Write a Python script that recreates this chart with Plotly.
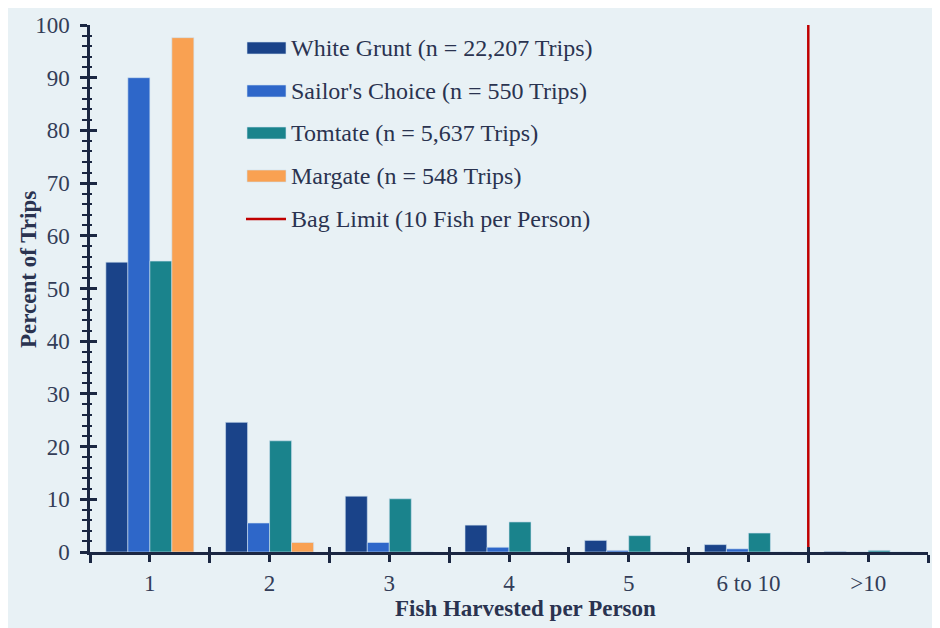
import plotly.graph_objects as go

categories = ["1", "2", "3", "4", "5", "6 to 10", ">10"]
white_grunt = [55.0, 24.6, 10.6, 5.1, 2.2, 1.4, 0.1]
sailors_choice = [90.0, 5.5, 1.8, 0.9, 0.3, 0.6, 0.0]
tomtate = [55.2, 21.1, 10.1, 5.7, 3.1, 3.6, 0.3]
margate = [97.6, 1.8, 0.0, 0.0, 0.0, 0.0, 0.0]
series_names = [
    "White Grunt (n = 22,207 Trips)",
    "Sailor's Choice (n = 550 Trips)",
    "Tomtate (n = 5,637 Trips)",
    "Margate (n = 548 Trips)",
]
bag_limit_name = "Bag Limit (10 Fish per Person)"
bag_limit_x = 5.5  # boundary between "6 to 10" and ">10"
y_ticks = [0, 10, 20, 30, 40, 50, 60, 70, 80, 90, 100]

colors = ["#1A4389", "#2E67C9", "#1A838C", "#F9A152"]
red = "#C00000"
navy = "#1B2742"
text_col = "#2A3350"
tick_col = "#333D58"
bg = "#E8F1F5"
font_fam = "Liberation Serif"

OFF = 8  # page body margin
W, H = 940, 628
# plot area in page pixels: x 90..928, y 25..552
ml = 90 - OFF
mt = 25 - OFF
mr = W - (928 - OFF)
mb = H - (552 - OFF)
pw, ph = W - ml - mr, H - mt - mb

def px_x(p):
    return (p - OFF - ml) / pw

def px_y(p):
    return (H - mb - (p - OFF)) / ph

xs = list(range(len(categories)))
fig = go.Figure()
for name, vals, c in zip(series_names, [white_grunt, sailors_choice, tomtate, margate], colors):
    fig.add_trace(go.Bar(x=xs, y=vals, name=name, marker=dict(color=c, line=dict(color="#CFE0F0", width=0.6)),
                         showlegend=False))
fig.add_trace(go.Scatter(x=[bag_limit_x, bag_limit_x], y=[y_ticks[0], y_ticks[-1]], mode="lines",
                         line=dict(color=red, width=2.5), name=bag_limit_name, showlegend=False))
fig.add_trace(go.Scatter(x=[None], y=[None], xaxis="x2", yaxis="y2", showlegend=False, hoverinfo="skip"))

xr = [-0.5, len(categories) - 0.5]
yr = [y_ticks[0], y_ticks[-1]]
boundaries = [i - 0.5 for i in range(len(categories) + 1)]

fig.update_layout(
    width=W, height=H,
    margin=dict(l=ml, r=mr, t=mt, b=mb, autoexpand=False),
    paper_bgcolor=bg, plot_bgcolor=bg,
    barmode="group", bargap=0.265, bargroupgap=0,
    font=dict(family=font_fam, color=text_col, size=23),
    xaxis=dict(range=xr, tickmode="array", tickvals=xs, ticktext=categories,
               ticks="outside", ticklen=7, tickwidth=2.5, tickcolor=navy,
               showline=True, linecolor=navy, linewidth=2.5, showgrid=False, zeroline=False,
               tickfont=dict(size=23, color=tick_col, family=font_fam), ticklabelstandoff=2,
               minor=dict(tickmode="array", tickvals=boundaries, ticks="outside", ticklen=8, tickwidth=2.5,
                          tickcolor=navy, showgrid=False)),
    xaxis2=dict(range=xr, overlaying="x", anchor="y", side="bottom", tickmode="array", tickvals=boundaries,
                ticks="inside", ticklen=5, tickwidth=2.5, tickcolor=navy, showticklabels=False,
                showline=False, showgrid=False, zeroline=False),
    yaxis=dict(range=yr, tickmode="array", tickvals=y_ticks, ticks="outside", ticklen=7, tickwidth=2.5, tickcolor=navy,
               showline=True, linecolor=navy, linewidth=2.5, showgrid=False, zeroline=False,
               tickfont=dict(size=23, color=tick_col, family=font_fam), ticklabelstandoff=6,
               minor=dict(tick0=0, dtick=2, ticks="outside", ticklen=5, tickwidth=2, tickcolor=navy, showgrid=False)),
    yaxis2=dict(range=yr, overlaying="y", anchor="x", side="left", tickmode="array", tickvals=y_ticks,
                ticks="inside", ticklen=7, tickwidth=2.5, tickcolor=navy, showticklabels=False,
                showline=False, showgrid=False, zeroline=False,
                minor=dict(tick0=0, dtick=2, ticks="inside", ticklen=2, tickwidth=2, tickcolor=navy, showgrid=False)),
)

shapes = []
annotations = []
leg_x0, leg_x1, text_x = 247, 286, 289
row_y = [48, 91, 133, 176, 219]
for i, (name, c) in enumerate(zip(series_names, colors)):
    yc = row_y[i]
    shapes.append(dict(type="rect", xref="paper", yref="paper", x0=px_x(leg_x0), x1=px_x(leg_x1),
                       y0=px_y(yc + 6), y1=px_y(yc - 6), fillcolor=c, line=dict(color="#CFE0F0", width=0.6)))
    annotations.append(dict(xref="paper", yref="paper", x=px_x(text_x), y=px_y(yc), text=name,
                            showarrow=False, xanchor="left", yanchor="middle",
                            font=dict(size=24, color=text_col, family=font_fam)))
yc = row_y[4]
shapes.append(dict(type="line", xref="paper", yref="paper", x0=px_x(leg_x0 - 1), x1=px_x(leg_x1),
                   y0=px_y(yc), y1=px_y(yc), line=dict(color=red, width=2.5)))
annotations.append(dict(xref="paper", yref="paper", x=px_x(text_x), y=px_y(yc), text=bag_limit_name,
                        showarrow=False, xanchor="left", yanchor="middle",
                        font=dict(size=24, color=text_col, family=font_fam)))

annotations.append(dict(xref="paper", yref="paper", x=px_x(525), y=px_y(608), text="<b>Fish Harvested per Person</b>",
                        showarrow=False, xanchor="center", yanchor="middle",
                        font=dict(size=23, color=text_col, family=font_fam)))
annotations.append(dict(xref="paper", yref="paper", x=px_x(28), y=px_y(270), text="<b>Percent of Trips</b>",
                        showarrow=False, xanchor="center", yanchor="middle", textangle=-90,
                        font=dict(size=23, color=text_col, family=font_fam)))

fig.update_layout(shapes=shapes, annotations=annotations)
fig.write_html("out.html")
